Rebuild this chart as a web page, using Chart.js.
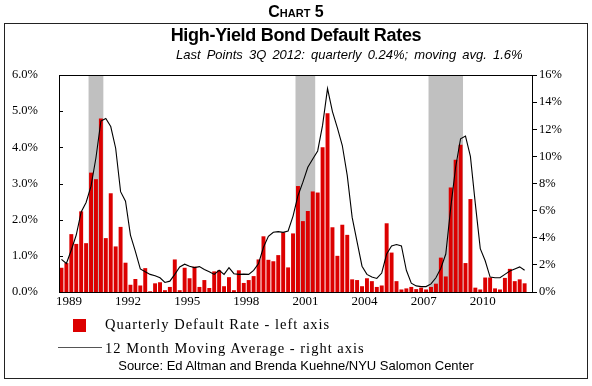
<!DOCTYPE html>
<html>
<head>
<meta charset="utf-8">
<script src="https://cdn.jsdelivr.net/npm/chart.js@4"></script>
<style>
  body { margin: 0; width: 592px; height: 386px; background: #fff; position: relative; overflow: hidden; font-family: "Liberation Sans", Arial, sans-serif; }
  #chartWrap { position: absolute; left: 0; top: 0; width: 592px; height: 386px; }
  .t { position: absolute; white-space: nowrap; color: #000; }
  #kicker { left: 0; width: 592px; top: 3px; text-align: center; font-weight: bold; font-size: 16px; font-variant: small-caps; }
  #box { position: absolute; left: 4px; top: 23px; width: 582px; height: 354px; border: 1.5px solid #222; }
  #title { left: 0; width: 592px; top: 25px; text-align: center; font-weight: bold; font-size: 18px; letter-spacing: -0.3px; }
  #subtitle { left: 176px; top: 47px; font-style: italic; font-size: 13px; word-spacing: 2.5px; }
  .leg { font-family: "Liberation Serif", "Times New Roman", serif; font-size: 14.5px; letter-spacing: 1px; }
  #sq { position: absolute; left: 73px; top: 319px; width: 13px; height: 13px; background: #dc0000; }
  #ln { position: absolute; left: 58px; top: 347px; width: 44px; height: 1px; background: #555; }
  #source { left: 0; width: 592px; top: 358px; text-align: center; font-size: 13px; }
</style>
</head>
<body>
<div id="box"></div>
<div id="chartWrap"><canvas id="chart" width="592" height="386"></canvas></div>
<div class="t" id="kicker">Chart 5</div>
<div class="t" id="title">High-Yield Bond Default Rates</div>
<div class="t" id="subtitle">Last Points 3Q 2012: quarterly 0.24%; moving avg. 1.6%</div>
<div id="sq"></div>
<div class="t leg" style="left:105px; top:316px;">Quarterly Default Rate - left axis</div>
<div id="ln"></div>
<div class="t leg" style="left:105px; top:340px;">12 Month Moving Average - right axis</div>
<div class="t" id="source">Source: Ed Altman and Brenda Kuehne/NYU Salomon Center</div>

<script>
// High-yield default rates, 1989Q1 - 2012Q3 (quarterly, left axis; moving avg, right axis)

const firstYear = 1989;
const lastYear = 2012;
const tickYears = ['1989', '1992', '1995', '1998', '2001', '2004', '2007', '2010'];

const quarterlyRate = [
    0.67, 0.80, 1.60, 1.33, 2.23, 1.35, 3.30, 3.12, 4.80, 1.49, 2.73, 1.26,
    1.80, 0.81, 0.20, 0.36, 0.18, 0.66, 0.02, 0.24, 0.27, 0.05, 0.14, 0.90,
    0.05, 0.67, 0.38, 0.70, 0.14, 0.33, 0.11, 0.57, 0.60, 0.16, 0.41, 0.05,
    0.60, 0.25, 0.33, 0.44, 0.90, 1.54, 0.89, 0.85, 1.02, 1.65, 0.68, 1.62,
    2.93, 1.96, 2.24, 2.78, 2.75, 4.00, 4.94, 1.79, 1.00, 1.86, 1.58, 0.35,
    0.33, 0.16, 0.38, 0.30, 0.14, 0.18, 1.90, 1.09, 0.30, 0.07, 0.10, 0.14,
    0.08, 0.12, 0.07, 0.14, 0.23, 0.95, 0.43, 2.89, 3.66, 4.07, 0.80, 2.57,
    0.12, 0.07, 0.40, 0.40, 0.10, 0.07, 0.39, 0.64, 0.30, 0.35, 0.24
];

const movingAvg = [
    2.4, 2.1, 3.1, 4.2, 5.9, 6.6, 7.8, 9.9, 12.6, 12.8, 12.2, 10.6,
    7.4, 6.7, 4.2, 3.0, 1.7, 1.5, 1.3, 1.2, 1.05, 0.7, 0.8, 1.3,
    1.85, 2.05, 1.9, 1.8, 1.87, 1.66, 1.5, 1.3, 1.6, 1.3, 1.8, 1.35,
    1.3, 1.32, 1.3, 1.6, 2.1, 3.3, 4.1, 4.4, 4.45, 4.4, 4.5, 5.6,
    7.1, 8.1, 9.2, 9.8, 10.4, 12.3, 15.0, 13.3, 12.1, 10.8, 8.6, 5.5,
    3.7, 1.9, 1.3, 1.1, 1.0, 1.4, 2.8, 3.4, 3.5, 3.4, 1.6, 0.65,
    0.45, 0.4, 0.4, 0.6, 1.05, 1.75, 2.8, 6.2, 9.2, 11.3, 11.5, 10.0,
    6.5, 3.2, 2.3, 1.1, 1.05, 1.05, 1.3, 1.55, 1.7, 1.85, 1.6
];

// recession shading, first and last quarter
const recessions = [
    ['1990Q3', '1991Q1'],
    ['2001Q1', '2001Q4'],
    ['2007Q4', '2009Q2']
];

const quarters = [];
for (let y = firstYear; y <= lastYear; y++) {
    for (let q = 1; q <= 4; q++) quarters.push(y + 'Q' + q);
}

const serif = 'Liberation Serif, Times New Roman, serif';

// grey recession bands, placed with the x scale
const shadePlugin = {
    id: 'shade',
    beforeDatasetsDraw(chart) {
        const ctx = chart.ctx;
        const a = chart.chartArea;
        const xs = chart.scales.x;
        const half = (xs.getPixelForValue(1) - xs.getPixelForValue(0)) / 2;
        ctx.save();
        ctx.fillStyle = '#c0c0c0';
        recessions.forEach(r => {
            const x0 = xs.getPixelForValue(quarters.indexOf(r[0])) - half;
            const x1 = xs.getPixelForValue(quarters.indexOf(r[1])) + half;
            ctx.fillRect(x0, a.top, x1 - x0, a.bottom - a.top);
        });
        ctx.restore();
    }
};

// frame around the plot + short inward ticks on the left axis
const framePlugin = {
    id: 'frame',
    afterDraw(chart) {
        const ctx = chart.ctx;
        const a = chart.chartArea;
        ctx.save();
        ctx.strokeStyle = '#000';
        ctx.lineWidth = 1;
        ctx.strokeRect(Math.round(a.left) + 0.5, Math.round(a.top) + 0.5,
            Math.round(a.right - a.left), Math.round(a.bottom - a.top));
        const ys = chart.scales.y;
        ys.ticks.forEach(t => {
            const py = Math.round(ys.getPixelForValue(t.value)) + 0.5;
            ctx.beginPath();
            ctx.moveTo(a.left, py);
            ctx.lineTo(a.left + 4, py);
            ctx.stroke();
        });
        ctx.restore();
    }
};

new Chart(document.getElementById('chart'), {
    data: {
        labels: quarters,
        datasets: [
            {
                type: 'line',
                label: '12 Month Moving Average - right axis',
                data: movingAvg,
                yAxisID: 'yRight',
                borderColor: '#000',
                borderWidth: 1.1,
                pointRadius: 0,
                tension: 0,
                order: 1
            },
            {
                type: 'bar',
                label: 'Quarterly Default Rate - left axis',
                data: quarterlyRate,
                yAxisID: 'y',
                backgroundColor: '#dc0000',
                barPercentage: 0.8,
                categoryPercentage: 1,
                order: 2
            }
        ]
    },
    options: {
        responsive: false,
        animation: false,
        layout: { padding: { top: 75, bottom: 74, left: 0, right: 0 } },
        plugins: {
            legend: { display: false },
            tooltip: { enabled: false }
        },
        scales: {
            x: {
                offset: true,
                grid: { display: false, drawTicks: false, tickLength: 0 },
                border: { display: false },
                ticks: {
                    autoSkip: false,
                    maxRotation: 0,
                    padding: 2,
                    labelOffset: 2.5,
                    color: '#000',
                    font: { family: serif, size: 13 },
                    callback: function (val, i) {
                        const q = quarters[i];
                        const yr = q.slice(0, 4);
                        return (q.endsWith('Q2') && tickYears.includes(yr)) ? yr : '';
                    }
                },
                afterFit: s => { s.height = 20; }
            },
            y: {
                position: 'left',
                min: 0,
                max: 6,
                grid: { display: false },
                border: { display: false },
                ticks: {
                    stepSize: 1,
                    padding: 13,
                    color: '#000',
                    font: { family: serif, size: 12.5 },
                    callback: v => v.toFixed(1) + '%'
                },
                afterFit: s => { s.width = 59; }
            },
            yRight: {
                position: 'right',
                min: 0,
                max: 16,
                grid: { drawOnChartArea: false, drawTicks: true, tickLength: 5, color: '#000' },
                border: { display: false },
                ticks: {
                    stepSize: 2,
                    padding: 2,
                    color: '#000',
                    font: { family: serif, size: 12.5 },
                    callback: v => v + '%'
                },
                afterFit: s => { s.width = 60; }
            }
        }
    },
    plugins: [shadePlugin, framePlugin]
});
</script>
</body>
</html>
